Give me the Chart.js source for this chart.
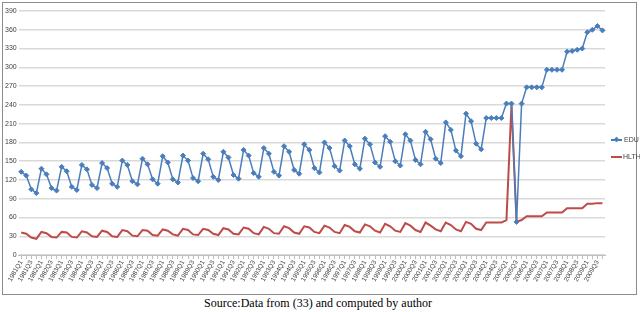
<!DOCTYPE html>
<html>
<head>
<meta charset="utf-8">
<script src="https://cdn.jsdelivr.net/npm/chart.js@4"></script>
<style>
  body { margin: 0; background: #fff; width: 640px; height: 312px; overflow: hidden; }
  #box { position: absolute; left: 2px; top: 2px; width: 633px; height: 291px; border: 1px solid #8c8c8c; }
  #cap { position: absolute; left: 0; top: 296px; width: 636px; text-align: center;
         font-family: 'Liberation Serif', 'Times New Roman', serif; font-size: 12px; color: #000; }
  .leg { position: absolute; font-family: 'Liberation Sans Narrow', 'Arial Narrow', sans-serif;
         font-size: 7px; color: #404040; line-height: 8px; }
  .sw { position: absolute; height: 2px; width: 11px; }
</style>
</head>
<body>
<div id="box"><canvas id="myChart" width="633" height="291"></canvas></div>
<div class="sw" style="left:611px; top:139px; background:#4a7ebb; height:1.5px;"></div>
<div class="sw" style="left:614px; top:137px; width:5px; height:5px; background:#4a7ebb; transform:rotate(45deg) scale(0.8);"></div>
<div class="leg" style="left:624px; top:136px;">EDU</div>
<div class="sw" style="left:611px; top:156px; background:#be4b48;"></div>
<div class="leg" style="left:623px; top:153px;">HLTH</div>
<div id="cap">Source:Data from (33) and computed by author</div>
<script>
const firstYear = 1981;
const quarters = [];
for (let y = firstYear; y < firstYear + 29; y++) {
  for (let q = 1; q <= 4; q++) quarters.push(y + 'Q' + q);
}

const edu = [
  133, 127, 105, 99, 138, 129, 107, 103, 141, 134, 109, 104, 144, 137, 112, 107,
  147, 139, 114, 109, 151, 144, 118, 113, 154, 145, 121, 114, 158, 148, 121, 116,
  159, 151, 123, 118, 162, 153, 125, 120, 165, 156, 128, 122, 168, 159, 131, 125,
  171, 162, 133, 127, 174, 165, 136, 130, 177, 168, 139, 132, 180, 171, 142, 135,
  183, 174, 145, 138, 186, 177, 148, 141, 190, 181, 150, 143, 193, 183, 152, 145,
  197, 185, 154, 147, 212, 200, 167, 158, 226, 214, 178, 169,
  219, 219, 219, 219, 242, 242, 53, 242, 268, 268, 268, 268, 296, 296, 296, 296,
  325, 326, 328, 330, 356, 360, 366, 359
];

const hlth = [
  36, 34, 28, 26, 37, 35, 29, 28, 37, 36, 29, 28, 38, 36, 30, 29,
  39, 37, 30, 29, 40, 38, 31, 30, 40, 39, 32, 31, 41, 39, 33, 31,
  42, 40, 33, 32, 42, 40, 34, 32, 43, 41, 34, 33, 44, 42, 35, 33,
  45, 42, 35, 34, 46, 43, 36, 34, 46, 44, 37, 35, 47, 44, 37, 35,
  48, 45, 38, 36, 49, 46, 39, 36, 50, 46, 39, 37, 51, 47, 40, 37,
  52, 47, 41, 38, 52, 48, 41, 38, 53, 50, 42, 40,
  52, 52, 52, 52, 56, 241, 53, 56, 62, 62, 62, 62, 68, 68, 68, 68,
  75, 75, 75, 75, 82, 82, 83, 83
];

const narrow = "'Liberation Sans Narrow', 'Arial Narrow', sans-serif";

new Chart(document.getElementById('myChart'), {
  type: 'line',
  data: {
    labels: quarters,
    datasets: [
      {
        label: 'EDU',
        data: edu,
        borderColor: '#4a7ebb',
        backgroundColor: '#4a7ebb',
        borderWidth: 1.5,
        pointStyle: 'rectRot',
        pointRadius: 2.5,
        pointBorderWidth: 1,
        tension: 0,
      },
      {
        label: 'HLTH',
        data: hlth,
        borderColor: '#be4b48',
        backgroundColor: '#be4b48',
        borderWidth: 2,
        pointRadius: 0,
        tension: 0,
      },
    ],
  },
  options: {
    responsive: false,
    animation: false,
    layout: { padding: { top: 8, right: 31, bottom: 11, left: 0 } },
    plugins: {
      tooltip: { enabled: false },
      legend: { display: false },
    },
    scales: {
      x: {
        offset: true,
        grid: { drawOnChartArea: false, drawTicks: true, tickLength: 4, color: '#bfbfbf' },
        border: { color: '#bfbfbf' },
        ticks: {
          autoSkip: false,
          minRotation: 60,
          maxRotation: 60,
          padding: 0,
          color: '#404040',
          font: { family: narrow, size: 6.5 },
          callback: function (value, index) {
            return index % 2 === 0 ? this.getLabelForValue(value) : '';
          },
        },
      },
      y: {
        min: 0,
        max: 390,
        grid: { color: '#d9d9d9', lineWidth: 1.5, drawTicks: false },
        border: { display: false },
        ticks: {
          stepSize: 15,
          padding: 2,
          color: '#404040',
          font: { family: narrow, size: 7 },
        },
      },
    },
  },
});
</script>
</body>
</html>
